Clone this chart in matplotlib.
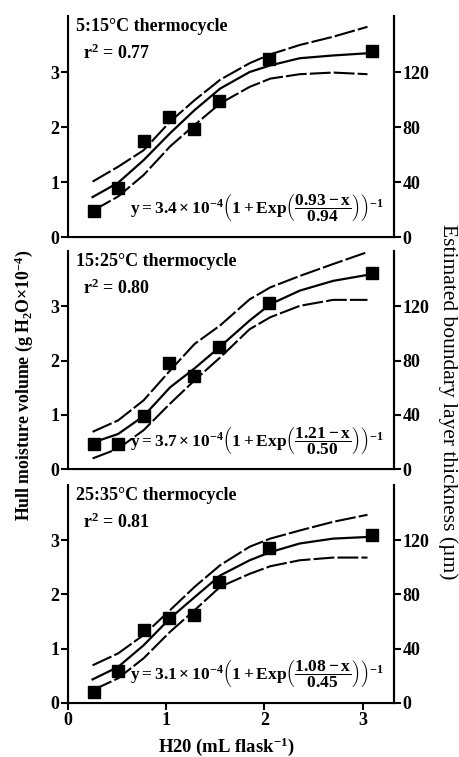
import matplotlib
matplotlib.use("Agg")
import matplotlib.pyplot as plt

plt.rcParams['font.family'] = ['Liberation Serif', 'DejaVu Serif']
plt.rcParams['font.weight'] = 'bold'
plt.rcParams['mathtext.fontset'] = 'custom'
plt.rcParams['mathtext.rm'] = 'Liberation Serif:bold'
plt.rcParams['mathtext.it'] = 'Liberation Serif:bold'
plt.rcParams['mathtext.bf'] = 'Liberation Serif:bold'

# measured points (H20, mL/flask)
x_pts = [0.26, 0.51, 0.77, 1.03, 1.28, 1.54, 2.05, 3.1]
y_5_15 = [0.48, 0.89, 1.74, 2.18, 1.96, 2.48, 3.24, 3.38]
y_15_25 = [0.46, 0.46, 0.98, 1.95, 1.71, 2.25, 3.06, 3.62]
y_25_35 = [0.20, 0.59, 1.34, 1.57, 1.62, 2.23, 2.85, 3.09]

# fitted curve and confidence band
x_fit = [0.25, 0.51, 0.77, 1.04, 1.29, 1.55, 1.85, 2.06, 2.36, 2.70, 3.05]
fit_5_15 = [0.73, 0.99, 1.40, 1.89, 2.31, 2.70, 3.00, 3.12, 3.25, 3.30, 3.34]
up_5_15 = [1.01, 1.28, 1.58, 2.10, 2.49, 2.86, 3.16, 3.32, 3.49, 3.64, 3.82]
lo_5_15 = [0.48, 0.74, 1.13, 1.65, 2.04, 2.43, 2.73, 2.88, 2.96, 2.99, 2.96]

fit_15_25 = [0.49, 0.65, 0.98, 1.51, 1.86, 2.26, 2.74, 3.04, 3.29, 3.47, 3.58]
up_15_25 = [0.69, 0.90, 1.27, 1.82, 2.31, 2.65, 3.13, 3.35, 3.56, 3.78, 4.0]
lo_15_25 = [0.20, 0.38, 0.72, 1.21, 1.64, 2.06, 2.58, 2.80, 3.01, 3.12, 3.12]

fit_25_35 = [0.43, 0.66, 1.06, 1.56, 1.95, 2.35, 2.63, 2.78, 2.94, 3.03, 3.06]
up_25_35 = [0.69, 0.91, 1.25, 1.71, 2.14, 2.54, 2.88, 3.03, 3.18, 3.34, 3.47]
lo_25_35 = [0.23, 0.45, 0.82, 1.31, 1.71, 2.14, 2.38, 2.52, 2.63, 2.68, 2.68]

titles = ['5:15°C thermocycle', '15:25°C thermocycle', '25:35°C thermocycle']
r2 = ['0.77', '0.80', '0.81']
eqs = [('3.4', '0.93', '0.94'), ('3.7', '1.21', '0.50'), ('3.1', '1.08', '0.45')]

points = [y_5_15, y_15_25, y_25_35]
fits = [fit_5_15, fit_15_25, fit_25_35]
uppers = [up_5_15, up_15_25, up_25_35]
lowers = [lo_5_15, lo_15_25, lo_25_35]

W, H = 459, 757
fig = plt.figure(figsize=(W / 100, H / 100), dpi=100)

# panel rectangles in pixels: (top, bottom)
panels = [(15.8, 237.3), (251.0, 469.3), (485.0, 702.7)]
left_px, right_px = 68, 394

for i, (top, bot) in enumerate(panels):
    ax = fig.add_axes([left_px / W, 1 - bot / H, (right_px - left_px) / W, (bot - top) / H])
    ax.plot(x_fit, uppers[i], color='black', lw=1.5, ls=(0, (10, 1.5)))
    ax.plot(x_fit, lowers[i], color='black', lw=1.5, ls=(0, (10, 1.5)))
    ax.plot(x_fit, fits[i], color='black', lw=1.6)
    ax.plot(x_pts, points[i], 's', color='black', ms=9)

    ax.set_xlim(0, 3.32)
    ax.set_ylim(0, 4.02)
    ax.set_yticks([0, 1, 2, 3])
    ax.spines['top'].set_visible(False)
    for s in ['left', 'right', 'bottom']:
        ax.spines[s].set_linewidth(1.5)
    ax.tick_params(axis='y', direction='out', length=5, width=1.5, labelsize=13, pad=1)
    if i < 2:
        ax.tick_params(axis='x', bottom=False, labelbottom=False)
    else:
        ax.set_xticks([0, 1, 2, 3])
        ax.tick_params(axis='x', direction='out', length=5, width=1.5, labelsize=13, pad=2)

    ax2 = ax.twinx()
    ax2.set_ylim(0, 4.02 * 40)
    ax2.set_yticks([0, 40, 80, 120])
    ax2.spines['top'].set_visible(False)
    ax2.spines['right'].set_linewidth(1.5)
    ax2.tick_params(axis='y', direction='out', length=5, width=1.5, labelsize=13, pad=1)

    ax.text(0.025, 0.95, titles[i], transform=ax.transAxes, fontsize=13,
            ha='left', va='center')
    ax.text(0.045, 0.83, r'r$^2$ = ' + r2[i], transform=ax.transAxes, fontsize=13,
            ha='left', va='center')
    a, b, c = eqs[i]
    eq = (r'$\mathrm{y = ' + a + r'\times10^{-4}}\left(1 + \mathrm{Exp}\left(\dfrac{\mathrm{'
          + b + r' - x}}{\mathrm{' + c + r'}}\right)\right)^{-1}$')
    ax.text(0.19, 0.13, eq, transform=ax.transAxes, fontsize=12.5,
            ha='left', va='center')

fig.text(24 / W, 1 - 385 / H, r'Hull moisture volume (g H$_2$O$\times$10$^{-4}$)',
         rotation=90, ha='center', va='center', fontsize=12.8)
fig.text(448 / W, 1 - 402 / H, 'Estimated boundary layer thickness (µm)',
         rotation=270, ha='center', va='center', fontsize=15.5, fontweight='normal')
fig.text(226 / W, 1 - 747 / H, r'H20 (mL flask$^{-1}$)', ha='center', va='center',
         fontsize=13.4)

fig.savefig('out.png', dpi=100)
